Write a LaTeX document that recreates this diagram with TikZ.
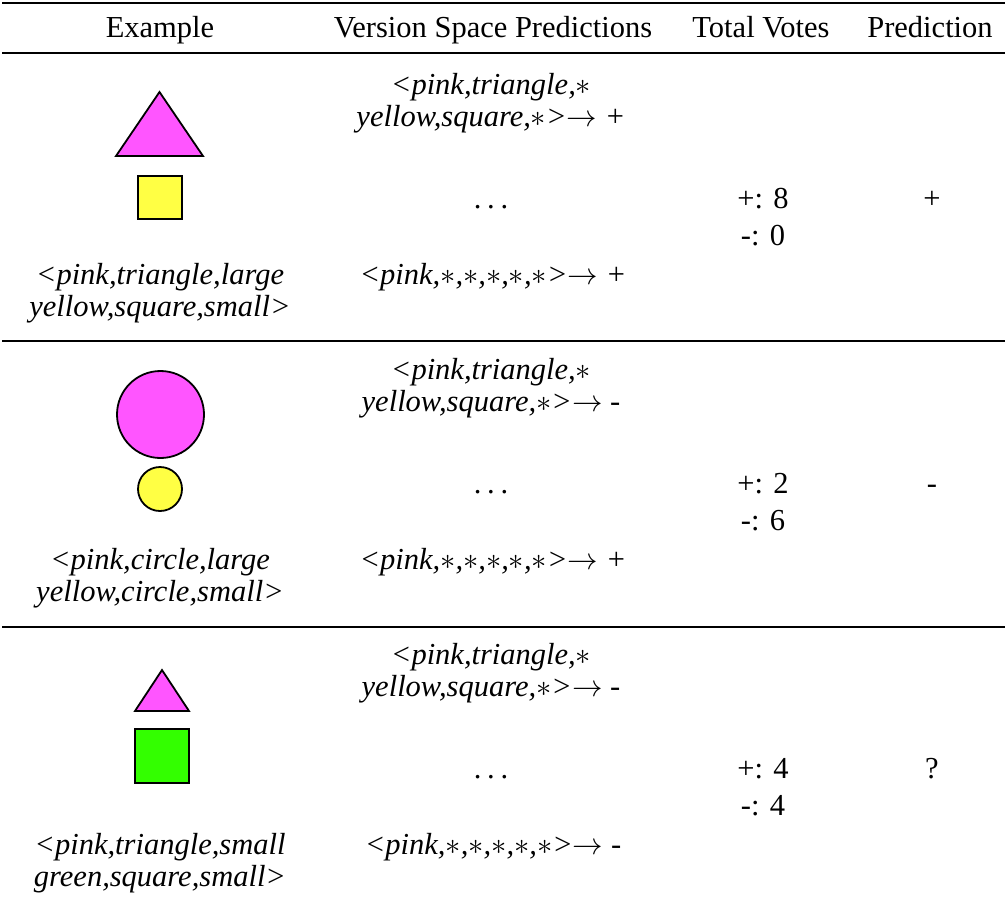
\documentclass[tikz,border=0pt]{standalone}
\usepackage{fix-cm}
\usepackage{fontspec}
\setmainfont{Liberation Serif}

\definecolor{pinkfill}{RGB}{255,85,255}
\definecolor{yellowfill}{RGB}{255,255,68}
\definecolor{greenfill}{RGB}{51,255,0}

% spaced ellipsis set with the text font's periods
\newcommand{\vsdots}{.\kern0.19em.\kern0.19em.}

\tikzset{
  txt/.style={inner sep=0pt, anchor=base, font=\fontsize{15.25}{16}\selectfont},
  itx/.style={txt, align=center, font=\fontsize{15.25}{16}\selectfont\itshape},
  toprule/.style={line width=1pt},
  midrule/.style={line width=0.7pt},
  figure/.style={draw=black, line width=0.9pt, line join=miter},
}

\begin{document}
\begin{tikzpicture}[x=0.5pt, y=-0.5pt]
\useasboundingbox (0,0) rectangle (1005,911);

% table rules
\draw[toprule] (2,3.3) -- (1005,3.3);
\draw[midrule] (2,53) -- (1005,53);
\draw[midrule] (2,341) -- (1005,341);
\draw[midrule] (2,627) -- (1005,627);

% header
\node[txt] (hEx)   at (160,37) {Example};
\node[txt] (hVS)   at (493,37) {Version Space Predictions};
\node[txt] (hVote) at (761,37) {Total Votes};
\node[txt] (hPred) at (930,37) {Prediction};

% two-line nodes are placed by the baseline of their last line

% ---- row 1 ----
\draw[figure, fill=pinkfill]   (116,156) -- (203,156) -- (159.5,92) -- cycle;
\draw[figure, fill=yellowfill] (138,176) rectangle (182,219);
\node[itx] (e1) at (160,316) {<pink,triangle,large\\yellow,square,small>};
\node[itx] (v1a) at (491,126) {<pink,triangle,$\ast$\\yellow,square,$\ast$>$\rightarrow$ +};
\node[txt] (v1c) at (491,208) {\vsdots};
\node[itx] (v1d) at (493,284) {<pink,$\ast$,$\ast$,$\ast$,$\ast$,$\ast$>$\rightarrow$ +};
\node[txt] (t1a) at (763,208) {+: 8};
\node[txt] (t1b) at (763,245) {-: 0};
\node[txt] (p1)  at (932,208) {+};

% ---- row 2 ----
\draw[figure, fill=pinkfill]   (160.5,414.5) circle[radius=43.5];
\draw[figure, fill=yellowfill] (160,489) circle[radius=22];
\node[itx] (e2) at (160,601) {<pink,circle,large\\yellow,circle,small>};
\node[itx] (v2a) at (491,411) {<pink,triangle,$\ast$\\yellow,square,$\ast$>$\rightarrow$ -};
\node[txt] (v2c) at (491,493) {\vsdots};
\node[itx] (v2d) at (493,569) {<pink,$\ast$,$\ast$,$\ast$,$\ast$,$\ast$>$\rightarrow$ +};
\node[txt] (t2a) at (763,493) {+: 2};
\node[txt] (t2b) at (763,530) {-: 6};
\node[txt] (p2)  at (932,493) {-};

% ---- row 3 ----
\draw[figure, fill=pinkfill]   (135,711) -- (189,711) -- (162,670) -- cycle;
\draw[figure, fill=greenfill]  (135,729) rectangle (189,783);
\node[itx] (e3) at (160,886) {<pink,triangle,small\\green,square,small>};
\node[itx] (v3a) at (491,696) {<pink,triangle,$\ast$\\yellow,square,$\ast$>$\rightarrow$ -};
\node[txt] (v3c) at (491,778) {\vsdots};
\node[itx] (v3d) at (493,854) {<pink,$\ast$,$\ast$,$\ast$,$\ast$,$\ast$>$\rightarrow$ -};
\node[txt] (t3a) at (763,778) {+: 4};
\node[txt] (t3b) at (763,815) {-: 4};
\node[txt] (p3)  at (932,778) {?};
\end{tikzpicture}
\end{document}
